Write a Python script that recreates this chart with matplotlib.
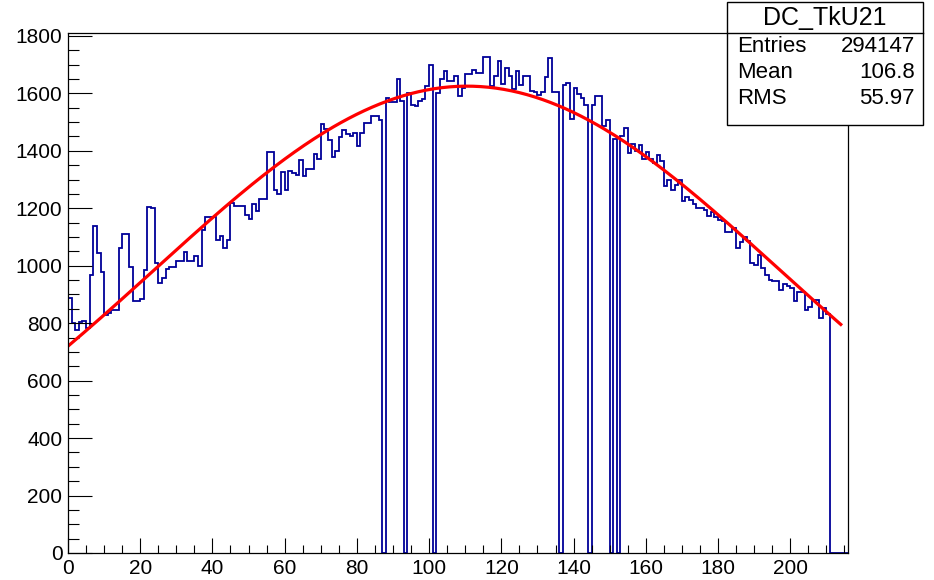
import numpy as np
import matplotlib.pyplot as plt
from matplotlib.ticker import MultipleLocator
from matplotlib.patches import Rectangle
from matplotlib.lines import Line2D

# bin contents of DC_TkU21, one bin per unit starting at 0
counts = [
    887, 800, 776, 803, 809, 782, 969, 1138, 1045, 977,
    829, 835, 846, 846, 1062, 1112, 1112, 995, 878, 878,
    885, 985, 1204, 1200, 1010, 940, 957, 989, 996, 996,
    1018, 1018, 1047, 1015, 1015, 1033, 1000, 1126, 1169, 1169,
    1169, 1091, 1103, 1062, 1091, 1217, 1208, 1208, 1208, 1175,
    1161, 1216, 1190, 1233, 1233, 1397, 1397, 1264, 1248, 1326,
    1264, 1329, 1322, 1314, 1368, 1311, 1337, 1337, 1389, 1372,
    1493, 1476, 1438, 1378, 1401, 1447, 1472, 1459, 1453, 1461,
    1415, 1461, 1495, 1495, 1522, 1522, 1507, 0, 1583, 1571,
    1571, 1651, 1574, 0, 1600, 1560, 1555, 1575, 1580, 1626,
    1700, 0, 1600, 1650, 1678, 1643, 1643, 1660, 1591, 1620,
    1666, 1666, 1681, 1670, 1670, 1727, 1727, 1626, 1660, 1712,
    1631, 1689, 1660, 1614, 1678, 1628, 1660, 1660, 1608, 1603,
    1594, 1605, 1657, 1724, 1603, 1603, 0, 1628, 1635, 1510,
    1620, 1597, 1585, 1559, 0, 1559, 1591, 1591, 1487, 1507,
    0, 1440, 0, 1452, 1481, 1392, 1423, 1400, 1420, 1370,
    1397, 1370, 1358, 1384, 1363, 1277, 1297, 1262, 1280, 1300,
    1224, 1239, 1228, 1216, 1201, 1201, 1193, 1172, 1187, 1170,
    1158, 1155, 1118, 1118, 1132, 1063, 1083, 1101, 1086, 1008,
    1003, 1037, 991, 966, 951, 947, 947, 916, 936, 931,
    924, 876, 910, 910, 847, 858, 882, 882, 818, 853, 832,
]
n_bins = 216

# gaussian fit shown in red
fit_const = 1625.0
fit_mean = 110.5
fit_sigma = 86.6
fit_range = (0.0, 214.0)

# stats box
stat_name = "DC_TkU21"
stat_labels = ["Entries", "Mean", "RMS"]
stat_values = ["294147", "106.8", "55.97"]

plt.rcParams['font.family'] = ['Liberation Sans', 'DejaVu Sans']

vals = np.zeros(n_bins)
vals[:len(counts)] = counts
edges = np.arange(n_bins + 1)

fig = plt.figure(figsize=(9.34, 5.8), dpi=100)
ax = fig.add_axes([68 / 934, 27 / 580, 780 / 934, 520 / 580])

ax.stairs(vals, edges, baseline=0, color='#000099', lw=1.3)

xf = np.linspace(fit_range[0], fit_range[1], 400)
yf = fit_const * np.exp(-0.5 * ((xf - fit_mean) / fit_sigma) ** 2)
ax.plot(xf, yf, color='red', lw=2.3)

ax.set_xlim(0, n_bins)
ax.set_ylim(0, 1810)
ax.xaxis.set_major_locator(MultipleLocator(20))
ax.xaxis.set_minor_locator(MultipleLocator(5))
ax.yaxis.set_major_locator(MultipleLocator(200))
ax.yaxis.set_minor_locator(MultipleLocator(50))
ax.set_xticks(np.arange(0, 201, 20))

ax.tick_params(which='both', direction='in', top=False, right=False, width=0.8, labelsize=15)
ax.tick_params(axis='x', which='major', length=11, pad=4)
ax.tick_params(axis='x', which='minor', length=6)
ax.tick_params(axis='y', which='major', length=17, pad=4)
ax.tick_params(axis='y', which='minor', length=8)
for s in ax.spines.values():
    s.set_linewidth(0.9)

# stats box in figure coords
x0, x1 = 727 / 934, 923 / 934
y0, y1 = 1 - 125 / 580, 1 - 2 / 580
ysep = 1 - 33 / 580
fig.patches.append(Rectangle((x0, y0), x1 - x0, y1 - y0, transform=fig.transFigure,
                             facecolor='white', edgecolor='black', lw=1.0, zorder=5))
fig.lines.append(Line2D([x0, x1], [ysep, ysep], transform=fig.transFigure,
                        color='black', lw=1.0, zorder=6))
fig.text((x0 + x1) / 2, 1 - 18 / 580, stat_name, ha='center', va='center',
         fontsize=18, zorder=7)
for i, (lab, val) in enumerate(zip(stat_labels, stat_values)):
    yy = 1 - (46 + 26 * i) / 580
    fig.text(737 / 934, yy, lab, ha='left', va='center', fontsize=16, zorder=7)
    fig.text(915 / 934, yy, val, ha='right', va='center', fontsize=16, zorder=7)

fig.savefig('out.png', dpi=100)
